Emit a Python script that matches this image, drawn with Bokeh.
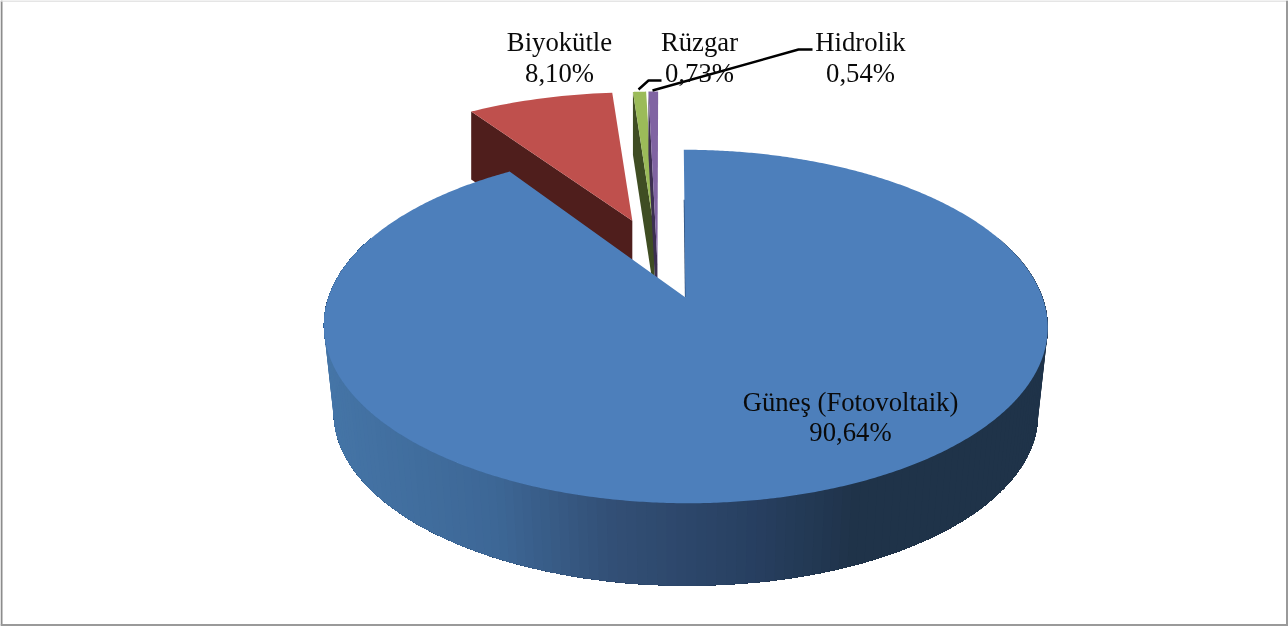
import numpy as np
from bokeh.plotting import figure
from bokeh.models import Range1d
from bokeh.core.properties import value
from bokeh.embed import file_html
from bokeh.resources import INLINE

# ---- data ----
categories = ["Güneş (Fotovoltaik)", "Biyokütle", "Rüzgar", "Hidrolik"]
shares = [90.64, 8.10, 0.73, 0.54]
share_labels = ["90,64%", "8,10%", "0,73%", "0,54%"]
top_colors = ["#4d7fbb", "#bf504d", "#9bbb59", "#8064a2"]
side_colors = ["#1f3349", "#4f1e1c", "#3f4d23", "#3d2f52"]

# ---- layout (page pixels) ----
W, H = 1288, 627
CX, CY, S, A, K, G = 685.0, 297.0, 357.0, 172.0, 0.164, -2.0
LOW_SCALE, LOW_DROP = 0.973, 88.0
explode = [(0.0, 0.0), (-0.167, 0.482), (-0.095, 0.49), (-0.087, 0.49)]
apex_off = [(0.0, 0.0), (-0.158, 0.482), (-0.09, 0.40), (-0.08, 0.20)]
depth = [0.0, 68.0, 63.0, 63.0]
label_pos = [(850, 401, 431), (559, 41, 72), (699, 41, 72), (860, 41, 72)]
FONT = value("Liberation Serif")


def project(u, v):
    den = 1 + K * v
    return CX + (S * u + G * v) / den, CY - A * v / den


def rim(a0, a1, off, n):
    t = np.radians(np.linspace(a0, a1, n))
    return project(np.sin(t) + off[0], np.cos(t) + off[1])


def lower(x, y):
    return CX + (x - CX) * LOW_SCALE, CY + LOW_DROP + (y - CY) * LOW_SCALE


def side_shade(x):
    stops_x = [324, 500, 610, 760, 860, 1050]
    stops = np.array([[0x45, 0x75, 0xa7], [0x3d, 0x67, 0x96], [0x33, 0x50, 0x77],
                      [0x27, 0x3f, 0x60], [0x1f, 0x33, 0x49], [0x1f, 0x33, 0x49]])
    c = [int(round(np.interp(x, stops_x, stops[:, i]))) for i in range(3)]
    return "#%02x%02x%02x" % tuple(c)


p = figure(width=W, height=H, x_range=Range1d(0, W), y_range=Range1d(H, 0),
           toolbar_location=None, output_backend="svg", min_border=0,
           background_fill_color="white", border_fill_color="white",
           outline_line_color=None)
p.xaxis.visible = False
p.yaxis.visible = False
p.grid.visible = False
p.styles = {"position": "fixed", "left": "0px", "top": "0px"}

# chart frame
p.line([1, 1], [0, 625], line_color="#8c8c8c", line_width=2)
p.line([0, 1288], [0.5, 0.5], line_color="#dddddd", line_width=1.5)
p.line([1286.5, 1286.5], [0, 625], line_color="#9a9a9a", line_width=2)
p.line([0, 1288], [624.5, 624.5], line_color="#9a9a9a", line_width=2)

angles = np.cumsum([0] + [s / sum(shares) * 360 for s in shares])

# exploded slices, drawn behind the main one
for i in range(1, len(shares)):
    a0, a1 = angles[i], angles[i + 1]
    rx, ry = rim(a0, a1, explode[i], 24)
    ax, ay = project(apex_off[i][0], apex_off[i][1])
    d = depth[i]
    p.patch([rx[0], ax, ax, rx[0]], [ry[0], ay, ay + d, ry[0] + d],
            fill_color=side_colors[i], line_color=None)
    p.patch(list(rx) + [ax], list(ry) + [ay], fill_color=top_colors[i], line_color=None)

# main slice: the wall is painted in overlapping colour bands, right to left
a0, a1 = angles[0], angles[1]
tx, ty = rim(a0, a1, explode[0], 720)
bx, by = lower(tx, ty)
keep = np.where(ty > CY - 60)[0]
first, last = keep[0], keep[-1]
step = 3
for j in range(first, last, step):
    c = side_shade((tx[j] + bx[j]) / 2)
    wall_x = list(tx[j:last + 1]) + list(bx[j:last + 1][::-1])
    wall_y = list(ty[j:last + 1]) + list(by[j:last + 1][::-1])
    p.patch(wall_x, wall_y, fill_color=c, line_color=None)

ax, ay = project(0, 0)
p.line([tx[0] + 0.5, ax], [ty[0] + 50, ay], line_color="#2a4a75", line_width=1.2)
p.patch(list(tx) + [ax], list(ty) + [ay], fill_color=top_colors[0], line_color=None)

# leader lines
p.line([638, 648, 661], [89, 80, 80], line_color="black", line_width=2.4)
p.line([652, 798, 812], [90, 49, 49], line_color="black", line_width=2.4)

# labels
for name, pct, (lx, y1, y2) in zip(categories, share_labels, label_pos):
    p.text([lx], [y1], text=[name], text_font=FONT, text_font_size="26.7px",
           text_align="center", text_baseline="middle", text_color="#0a0a0a")
    p.text([lx], [y2], text=[pct], text_font=FONT, text_font_size="26.7px",
           text_align="center", text_baseline="middle", text_color="#0a0a0a")

open("out.html", "w").write(file_html(p, INLINE))
